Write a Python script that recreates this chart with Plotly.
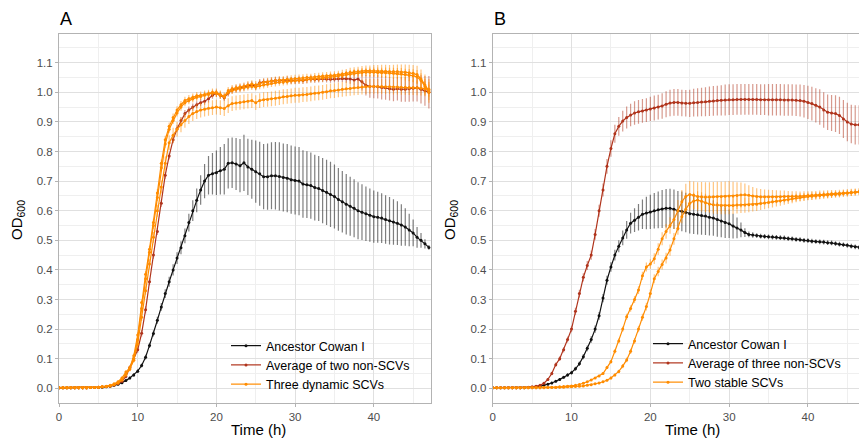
import plotly.graph_objects as go

# time points (h), one reading every 30 min
time_h = [i * 0.5 for i in range(95)]

# ---------------- Panel A ----------------
a_ancestor = [
    0.002, 0.002, 0.002, 0.002, 0.002, 0.002, 0.002, 0.002, 0.003, 0.003,
    0.003, 0.004, 0.005, 0.007, 0.010, 0.014, 0.019, 0.026, 0.035, 0.045,
    0.058, 0.077, 0.105, 0.145, 0.185, 0.230, 0.275, 0.320, 0.360, 0.400,
    0.440, 0.475, 0.515, 0.560, 0.600, 0.635, 0.670, 0.700, 0.720, 0.725,
    0.728, 0.735, 0.740, 0.760, 0.762, 0.758, 0.752, 0.762, 0.748, 0.740,
    0.732, 0.725, 0.715, 0.715, 0.718, 0.718, 0.716, 0.712, 0.710, 0.705,
    0.702, 0.700, 0.690, 0.688, 0.685, 0.678, 0.675, 0.668, 0.662, 0.655,
    0.648, 0.638, 0.630, 0.622, 0.615, 0.608, 0.600, 0.595, 0.590, 0.585,
    0.580, 0.578, 0.575, 0.570, 0.566, 0.562, 0.558, 0.552, 0.545, 0.535,
    0.525, 0.510, 0.500, 0.488, 0.476]
a_ancestor_sd = [
    0.002, 0.002, 0.002, 0.002, 0.002, 0.002, 0.002, 0.002, 0.002, 0.002,
    0.002, 0.002, 0.003, 0.003, 0.003, 0.004, 0.004, 0.005, 0.005, 0.006,
    0.006, 0.007, 0.008, 0.009, 0.010, 0.012, 0.013, 0.015, 0.017, 0.019,
    0.020, 0.022, 0.025, 0.030, 0.035, 0.040, 0.050, 0.058, 0.065, 0.070,
    0.075, 0.080, 0.085, 0.085, 0.085, 0.088, 0.090, 0.095, 0.095, 0.100,
    0.105, 0.108, 0.110, 0.112, 0.113, 0.114, 0.115, 0.115, 0.115, 0.115,
    0.115, 0.115, 0.114, 0.113, 0.112, 0.111, 0.110, 0.110, 0.110, 0.110,
    0.108, 0.106, 0.104, 0.102, 0.100, 0.098, 0.096, 0.094, 0.092, 0.090,
    0.088, 0.086, 0.084, 0.082, 0.080, 0.077, 0.074, 0.070, 0.063, 0.055,
    0.045, 0.035, 0.025, 0.016, 0.008]

a_nonscv = [
    0.002, 0.002, 0.002, 0.002, 0.002, 0.002, 0.002, 0.002, 0.003, 0.003,
    0.004, 0.005, 0.006, 0.008, 0.011, 0.016, 0.024, 0.040, 0.070, 0.100,
    0.130, 0.186, 0.265, 0.360, 0.450, 0.530, 0.625, 0.720, 0.785, 0.840,
    0.877, 0.905, 0.928, 0.940, 0.950, 0.958, 0.965, 0.970, 0.978, 0.990,
    0.997, 0.990, 0.982, 0.998, 1.008, 1.012, 1.015, 1.018, 1.022, 1.025,
    1.020, 1.032, 1.035, 1.035, 1.038, 1.040, 1.040, 1.040, 1.042, 1.040,
    1.040, 1.042, 1.040, 1.043, 1.045, 1.044, 1.045, 1.046, 1.045, 1.044,
    1.045, 1.046, 1.047, 1.046, 1.045, 1.042, 1.045, 1.036, 1.024, 1.020,
    1.020, 1.019, 1.016, 1.015, 1.012, 1.010, 1.012, 1.010, 1.010, 1.012,
    1.014, 1.015, 1.010, 1.005, 1.000]
a_nonscv_sd = [
    0.002, 0.002, 0.002, 0.002, 0.002, 0.002, 0.002, 0.002, 0.002, 0.002,
    0.002, 0.002, 0.003, 0.003, 0.004, 0.005, 0.006, 0.007, 0.008, 0.009,
    0.010, 0.011, 0.012, 0.012, 0.012, 0.012, 0.012, 0.012, 0.012, 0.012,
    0.012, 0.012, 0.012, 0.012, 0.012, 0.012, 0.012, 0.012, 0.012, 0.012,
    0.012, 0.012, 0.012, 0.012, 0.012, 0.012, 0.012, 0.012, 0.012, 0.012,
    0.012, 0.012, 0.012, 0.012, 0.012, 0.012, 0.012, 0.012, 0.012, 0.012,
    0.012, 0.012, 0.012, 0.012, 0.012, 0.012, 0.012, 0.012, 0.012, 0.012,
    0.012, 0.012, 0.012, 0.014, 0.016, 0.020, 0.025, 0.030, 0.035, 0.038,
    0.040, 0.040, 0.040, 0.040, 0.040, 0.040, 0.040, 0.042, 0.042, 0.044,
    0.045, 0.046, 0.048, 0.050, 0.055]

a_dyn1 = [
    0.002, 0.002, 0.002, 0.002, 0.002, 0.002, 0.002, 0.002, 0.003, 0.003,
    0.004, 0.005, 0.007, 0.010, 0.015, 0.022, 0.035, 0.055, 0.070, 0.110,
    0.180, 0.290, 0.385, 0.470, 0.560, 0.660, 0.760, 0.840, 0.885, 0.915,
    0.940, 0.958, 0.972, 0.978, 0.983, 0.988, 0.990, 0.993, 0.996, 1.000,
    1.000, 0.993, 0.986, 1.005, 1.012, 1.015, 1.018, 1.020, 1.025, 1.028,
    1.025, 1.030, 1.034, 1.036, 1.038, 1.040, 1.042, 1.042, 1.044, 1.045,
    1.046, 1.047, 1.048, 1.050, 1.050, 1.052, 1.053, 1.055, 1.056, 1.057,
    1.058, 1.060, 1.062, 1.065, 1.068, 1.070, 1.070, 1.072, 1.073, 1.073,
    1.073, 1.072, 1.072, 1.071, 1.070, 1.070, 1.070, 1.069, 1.068, 1.066,
    1.064, 1.060, 1.045, 1.025, 1.005]
a_dyn1_sd = [
    0.002, 0.002, 0.002, 0.002, 0.002, 0.002, 0.002, 0.002, 0.002, 0.002,
    0.002, 0.002, 0.002, 0.003, 0.003, 0.004, 0.005, 0.006, 0.007, 0.008,
    0.009, 0.010, 0.011, 0.012, 0.013, 0.013, 0.013, 0.013, 0.013, 0.013,
    0.013, 0.013, 0.013, 0.013, 0.013, 0.013, 0.013, 0.013, 0.013, 0.013,
    0.013, 0.013, 0.013, 0.013, 0.013, 0.013, 0.013, 0.013, 0.013, 0.013,
    0.013, 0.013, 0.013, 0.013, 0.013, 0.013, 0.013, 0.013, 0.013, 0.013,
    0.013, 0.013, 0.013, 0.013, 0.013, 0.013, 0.013, 0.013, 0.013, 0.013,
    0.013, 0.013, 0.014, 0.014, 0.015, 0.015, 0.016, 0.017, 0.018, 0.018,
    0.019, 0.020, 0.021, 0.022, 0.022, 0.023, 0.024, 0.025, 0.026, 0.027,
    0.028, 0.030, 0.032, 0.035, 0.040]

a_dyn2 = [
    0.002, 0.002, 0.002, 0.002, 0.002, 0.002, 0.002, 0.002, 0.003, 0.003,
    0.004, 0.005, 0.006, 0.009, 0.013, 0.019, 0.030, 0.047, 0.065, 0.100,
    0.165, 0.270, 0.370, 0.460, 0.550, 0.645, 0.745, 0.825, 0.875, 0.905,
    0.930, 0.950, 0.965, 0.972, 0.978, 0.983, 0.986, 0.990, 0.993, 0.997,
    0.996, 0.990, 0.984, 1.000, 1.006, 1.010, 1.012, 1.015, 1.018, 1.020,
    1.018, 1.022, 1.025, 1.027, 1.030, 1.032, 1.034, 1.035, 1.036, 1.038,
    1.039, 1.040, 1.042, 1.043, 1.045, 1.046, 1.047, 1.048, 1.050, 1.052,
    1.053, 1.055, 1.057, 1.060, 1.062, 1.064, 1.066, 1.067, 1.068, 1.068,
    1.068, 1.067, 1.066, 1.066, 1.065, 1.064, 1.063, 1.062, 1.060, 1.058,
    1.056, 1.052, 1.040, 1.020, 1.000]
a_dyn2_sd = [
    0.002, 0.002, 0.002, 0.002, 0.002, 0.002, 0.002, 0.002, 0.002, 0.002,
    0.002, 0.002, 0.002, 0.003, 0.003, 0.004, 0.005, 0.006, 0.007, 0.008,
    0.009, 0.010, 0.011, 0.012, 0.012, 0.012, 0.012, 0.012, 0.012, 0.012,
    0.012, 0.012, 0.012, 0.012, 0.012, 0.012, 0.012, 0.012, 0.012, 0.012,
    0.012, 0.012, 0.012, 0.012, 0.012, 0.012, 0.012, 0.012, 0.012, 0.012,
    0.012, 0.012, 0.012, 0.012, 0.012, 0.012, 0.012, 0.012, 0.012, 0.012,
    0.012, 0.012, 0.012, 0.012, 0.012, 0.012, 0.012, 0.012, 0.012, 0.012,
    0.012, 0.012, 0.012, 0.013, 0.013, 0.014, 0.014, 0.015, 0.015, 0.016,
    0.016, 0.017, 0.017, 0.018, 0.018, 0.019, 0.019, 0.020, 0.020, 0.021,
    0.022, 0.023, 0.024, 0.025, 0.026]

a_dyn3 = [
    0.002, 0.002, 0.002, 0.002, 0.002, 0.002, 0.002, 0.002, 0.003, 0.003,
    0.004, 0.005, 0.006, 0.008, 0.012, 0.018, 0.028, 0.045, 0.065, 0.095,
    0.150, 0.240, 0.330, 0.420, 0.510, 0.600, 0.680, 0.760, 0.830, 0.855,
    0.875, 0.890, 0.905, 0.918, 0.928, 0.935, 0.940, 0.943, 0.946, 0.948,
    0.950, 0.948, 0.945, 0.955, 0.962, 0.964, 0.966, 0.968, 0.970, 0.972,
    0.965, 0.972, 0.975, 0.976, 0.978, 0.980, 0.982, 0.985, 0.986, 0.988,
    0.990, 0.990, 0.992, 0.993, 0.995, 0.997, 0.998, 1.000, 1.002, 1.005,
    1.006, 1.008, 1.010, 1.012, 1.013, 1.015, 1.016, 1.018, 1.019, 1.020,
    1.020, 1.020, 1.020, 1.019, 1.019, 1.018, 1.018, 1.017, 1.017, 1.016,
    1.016, 1.015, 1.014, 1.012, 1.010]
a_dyn3_sd = [
    0.002, 0.002, 0.002, 0.002, 0.002, 0.002, 0.002, 0.002, 0.002, 0.002,
    0.002, 0.002, 0.002, 0.003, 0.003, 0.004, 0.005, 0.006, 0.007, 0.008,
    0.010, 0.012, 0.014, 0.016, 0.018, 0.020, 0.022, 0.024, 0.025, 0.025,
    0.025, 0.025, 0.025, 0.025, 0.025, 0.025, 0.025, 0.025, 0.025, 0.025,
    0.025, 0.025, 0.025, 0.025, 0.025, 0.025, 0.025, 0.025, 0.025, 0.025,
    0.025, 0.025, 0.025, 0.025, 0.025, 0.025, 0.025, 0.025, 0.025, 0.025,
    0.025, 0.025, 0.025, 0.025, 0.025, 0.025, 0.025, 0.025, 0.025, 0.025,
    0.025, 0.025, 0.025, 0.025, 0.025, 0.025, 0.025, 0.025, 0.025, 0.025,
    0.025, 0.025, 0.025, 0.025, 0.025, 0.025, 0.025, 0.025, 0.025, 0.025,
    0.025, 0.025, 0.025, 0.025, 0.025]

# ---------------- Panel B ----------------
b_ancestor = [
    0.002, 0.002, 0.002, 0.002, 0.002, 0.002, 0.002, 0.002, 0.002, 0.003,
    0.003, 0.004, 0.007, 0.010, 0.014, 0.018, 0.024, 0.030, 0.037, 0.045,
    0.053, 0.066, 0.083, 0.107, 0.135, 0.165, 0.200, 0.245, 0.305, 0.365,
    0.410, 0.450, 0.480, 0.508, 0.535, 0.558, 0.568, 0.578, 0.588, 0.592,
    0.596, 0.600, 0.603, 0.606, 0.608, 0.608, 0.605, 0.600, 0.598, 0.594,
    0.590, 0.588, 0.586, 0.584, 0.582, 0.578, 0.575, 0.570, 0.565, 0.560,
    0.556, 0.548, 0.542, 0.535, 0.526, 0.520, 0.518, 0.516, 0.514, 0.513,
    0.512, 0.511, 0.510, 0.509, 0.508, 0.506, 0.505, 0.503, 0.502, 0.500,
    0.499, 0.497, 0.496, 0.495, 0.494, 0.492, 0.491, 0.489, 0.487, 0.485,
    0.483, 0.480, 0.478, 0.476, 0.475]
b_ancestor_sd = [
    0.002, 0.002, 0.002, 0.002, 0.002, 0.002, 0.002, 0.002, 0.002, 0.002,
    0.002, 0.002, 0.003, 0.003, 0.003, 0.004, 0.004, 0.005, 0.005, 0.006,
    0.006, 0.007, 0.008, 0.009, 0.010, 0.011, 0.012, 0.013, 0.014, 0.015,
    0.016, 0.018, 0.020, 0.025, 0.030, 0.035, 0.040, 0.045, 0.050, 0.055,
    0.058, 0.060, 0.062, 0.064, 0.065, 0.066, 0.067, 0.067, 0.067, 0.067,
    0.067, 0.067, 0.066, 0.065, 0.064, 0.062, 0.060, 0.058, 0.055, 0.052,
    0.048, 0.042, 0.035, 0.025, 0.015, 0.010, 0.009, 0.008, 0.008, 0.008,
    0.008, 0.008, 0.008, 0.008, 0.008, 0.008, 0.008, 0.008, 0.008, 0.008,
    0.008, 0.008, 0.008, 0.008, 0.008, 0.008, 0.008, 0.008, 0.008, 0.008,
    0.008, 0.008, 0.008, 0.008, 0.008]

b_nonscv = [
    0.002, 0.002, 0.002, 0.002, 0.002, 0.002, 0.002, 0.002, 0.003, 0.004,
    0.005, 0.007, 0.010, 0.017, 0.030, 0.050, 0.080, 0.100, 0.130, 0.165,
    0.200, 0.260, 0.320, 0.375, 0.415, 0.450, 0.520, 0.600, 0.670, 0.750,
    0.810, 0.860, 0.885, 0.903, 0.915, 0.923, 0.930, 0.934, 0.937, 0.940,
    0.944, 0.947, 0.950, 0.954, 0.960, 0.964, 0.966, 0.966, 0.964, 0.963,
    0.963, 0.965, 0.966, 0.967, 0.968, 0.970, 0.971, 0.972, 0.973, 0.974,
    0.975, 0.975, 0.976, 0.976, 0.976, 0.976, 0.976, 0.976, 0.975, 0.975,
    0.975, 0.975, 0.975, 0.975, 0.974, 0.974, 0.974, 0.973, 0.972, 0.970,
    0.966, 0.962, 0.956, 0.950, 0.940, 0.933, 0.930, 0.928, 0.922, 0.910,
    0.900, 0.893, 0.890, 0.890, 0.889]
b_nonscv_sd = [
    0.002, 0.002, 0.002, 0.002, 0.002, 0.002, 0.002, 0.002, 0.002, 0.002,
    0.002, 0.003, 0.003, 0.004, 0.005, 0.006, 0.007, 0.008, 0.009, 0.010,
    0.011, 0.012, 0.013, 0.014, 0.015, 0.016, 0.018, 0.020, 0.022, 0.025,
    0.028, 0.030, 0.032, 0.035, 0.037, 0.038, 0.040, 0.040, 0.040, 0.040,
    0.041, 0.042, 0.042, 0.043, 0.044, 0.045, 0.045, 0.045, 0.045, 0.045,
    0.046, 0.047, 0.048, 0.048, 0.049, 0.050, 0.050, 0.050, 0.051, 0.052,
    0.052, 0.052, 0.052, 0.052, 0.052, 0.052, 0.052, 0.052, 0.052, 0.052,
    0.053, 0.053, 0.053, 0.053, 0.053, 0.053, 0.053, 0.053, 0.054, 0.055,
    0.056, 0.057, 0.058, 0.060, 0.060, 0.060, 0.061, 0.062, 0.063, 0.064,
    0.065, 0.065, 0.066, 0.066, 0.066]

b_stable1 = [
    0.002, 0.002, 0.002, 0.002, 0.002, 0.002, 0.002, 0.002, 0.002, 0.002,
    0.002, 0.002, 0.002, 0.003, 0.003, 0.004, 0.004, 0.005, 0.006, 0.007,
    0.008, 0.010, 0.013, 0.017, 0.022, 0.028, 0.035, 0.042, 0.050, 0.070,
    0.090, 0.125, 0.160, 0.200, 0.242, 0.270, 0.300, 0.332, 0.380, 0.410,
    0.420, 0.438, 0.470, 0.505, 0.530, 0.550, 0.570, 0.600, 0.630, 0.648,
    0.655, 0.652, 0.648, 0.647, 0.646, 0.646, 0.647, 0.648, 0.648, 0.649,
    0.650, 0.650, 0.651, 0.653, 0.654, 0.652, 0.650, 0.648, 0.647, 0.647,
    0.647, 0.647, 0.647, 0.647, 0.648, 0.648, 0.648, 0.649, 0.649, 0.650,
    0.651, 0.652, 0.653, 0.654, 0.655, 0.656, 0.657, 0.658, 0.659, 0.660,
    0.661, 0.662, 0.663, 0.664, 0.665]
b_stable1_sd = [
    0.001, 0.001, 0.001, 0.001, 0.001, 0.001, 0.001, 0.001, 0.001, 0.001,
    0.001, 0.001, 0.001, 0.001, 0.001, 0.001, 0.001, 0.001, 0.001, 0.001,
    0.002, 0.002, 0.002, 0.002, 0.003, 0.003, 0.003, 0.004, 0.004, 0.005,
    0.006, 0.007, 0.008, 0.009, 0.010, 0.011, 0.012, 0.013, 0.014, 0.015,
    0.016, 0.018, 0.020, 0.022, 0.025, 0.028, 0.032, 0.036, 0.040, 0.043,
    0.045, 0.047, 0.048, 0.050, 0.050, 0.050, 0.050, 0.050, 0.050, 0.050,
    0.050, 0.048, 0.045, 0.042, 0.038, 0.034, 0.030, 0.028, 0.026, 0.025,
    0.024, 0.023, 0.022, 0.021, 0.020, 0.019, 0.018, 0.017, 0.016, 0.016,
    0.015, 0.015, 0.014, 0.014, 0.013, 0.013, 0.013, 0.012, 0.012, 0.012,
    0.012, 0.012, 0.012, 0.012, 0.012]

b_stable2 = [
    0.002, 0.002, 0.002, 0.002, 0.002, 0.002, 0.002, 0.002, 0.002, 0.002,
    0.002, 0.002, 0.002, 0.002, 0.003, 0.003, 0.003, 0.004, 0.004, 0.005,
    0.005, 0.006, 0.007, 0.008, 0.010, 0.012, 0.015, 0.018, 0.022, 0.027,
    0.035, 0.045, 0.057, 0.075, 0.096, 0.125, 0.160, 0.200, 0.240, 0.276,
    0.320, 0.370, 0.395, 0.418, 0.440, 0.467, 0.505, 0.540, 0.580, 0.605,
    0.625, 0.633, 0.636, 0.632, 0.627, 0.623, 0.620, 0.619, 0.618, 0.618,
    0.618, 0.618, 0.619, 0.619, 0.619, 0.620, 0.621, 0.622, 0.624, 0.626,
    0.628, 0.630, 0.632, 0.634, 0.636, 0.638, 0.640, 0.643, 0.645, 0.647,
    0.648, 0.649, 0.650, 0.651, 0.652, 0.653, 0.654, 0.655, 0.656, 0.658,
    0.659, 0.661, 0.662, 0.664, 0.665]
b_stable2_sd = [
    0.001, 0.001, 0.001, 0.001, 0.001, 0.001, 0.001, 0.001, 0.001, 0.001,
    0.001, 0.001, 0.001, 0.001, 0.001, 0.001, 0.001, 0.001, 0.001, 0.001,
    0.002, 0.002, 0.002, 0.002, 0.002, 0.003, 0.003, 0.003, 0.004, 0.004,
    0.005, 0.005, 0.006, 0.007, 0.008, 0.009, 0.010, 0.011, 0.012, 0.013,
    0.014, 0.015, 0.016, 0.017, 0.018, 0.019, 0.020, 0.021, 0.022, 0.024,
    0.026, 0.028, 0.030, 0.030, 0.030, 0.030, 0.030, 0.030, 0.030, 0.030,
    0.030, 0.029, 0.028, 0.027, 0.026, 0.025, 0.024, 0.023, 0.022, 0.021,
    0.020, 0.019, 0.018, 0.017, 0.016, 0.015, 0.015, 0.014, 0.014, 0.013,
    0.013, 0.013, 0.012, 0.012, 0.012, 0.012, 0.011, 0.011, 0.011, 0.011,
    0.011, 0.011, 0.011, 0.011, 0.011]

x_ticks = [0, 10, 20, 30, 40]
y_ticks = [0.0, 0.1, 0.2, 0.3, 0.4, 0.5, 0.6, 0.7, 0.8, 0.9, 1.0, 1.1]
y_tick_labels = ["0.0", "0.1", "0.2", "0.3", "0.4", "0.5", "0.6", "0.7", "0.8", "0.9", "1.0", "1.1"]

BLACK = "#111111"
RED = "#B0341C"
ORANGE = "#FF8C00"
ERR = {BLACK: "rgba(20,20,20,0.55)", RED: "rgba(176,52,28,0.5)", ORANGE: "rgba(255,140,0,0.5)"}

W, H = 859, 440
FONT = "Liberation Sans, Arial, sans-serif"

fig = go.Figure()


def add(y, sd, color, name, xa, ya, legend, show=True, group=None):
    fig.add_trace(go.Scatter(
        x=time_h, y=y, mode="lines+markers", name=name,
        xaxis=xa, yaxis=ya, legend=legend, showlegend=show,
        legendgroup=group or (legend + name),
        line=dict(color=color, width=1.2),
        marker=dict(color=color, size=3),
        error_y=dict(type="data", array=sd, visible=True, color=ERR[color],
                     thickness=1.2, width=0),
    ))


add(a_ancestor, a_ancestor_sd, BLACK, "Ancestor Cowan I", "x", "y", "legend")
add(a_nonscv, a_nonscv_sd, RED, "Average of two non-SCVs", "x", "y", "legend")
add(a_dyn3, a_dyn3_sd, ORANGE, "Three dynamic SCVs", "x", "y", "legend", True, "dyn")
add(a_dyn2, a_dyn2_sd, ORANGE, "Three dynamic SCVs", "x", "y", "legend", False, "dyn")
add(a_dyn1, a_dyn1_sd, ORANGE, "Three dynamic SCVs", "x", "y", "legend", False, "dyn")

add(b_ancestor, b_ancestor_sd, BLACK, "Ancestor Cowan I", "x2", "y2", "legend2")
add(b_nonscv, b_nonscv_sd, RED, "Average of three non-SCVs", "x2", "y2", "legend2")
add(b_stable1, b_stable1_sd, ORANGE, "Two stable SCVs", "x2", "y2", "legend2", True, "st")
add(b_stable2, b_stable2_sd, ORANGE, "Two stable SCVs", "x2", "y2", "legend2", False, "st")

px = lambda v: v / W
py = lambda v: 1 - v / H

grid = dict(showgrid=True, gridcolor="#E0E0E0", gridwidth=1, zeroline=False,
            showline=True, linecolor="#B3B3B3", linewidth=1,
            ticks="outside", ticklen=3, tickcolor="#B3B3B3", tickwidth=1,
            tickfont=dict(family=FONT, size=11.5, color="#4D4D4D"),
            automargin=False)

xcommon = dict(grid, tickvals=x_ticks, minor=dict(dtick=5, tick0=0, showgrid=True,
                                                  gridcolor="#EFEFEF", gridwidth=0.7))
ycommon = dict(grid, tickvals=y_ticks, ticktext=y_tick_labels,
               range=[-0.0486, 1.197],
               domain=[py(402.7), py(34)],
               minor=dict(dtick=0.05, tick0=0.05, showgrid=True,
                          gridcolor="#EFEFEF", gridwidth=0.7))

LEGFONT = dict(family=FONT, size=12.5, color="black")

fig.update_layout(
    width=W, height=H,
    margin=dict(l=0, r=0, t=0, b=0),
    paper_bgcolor="white", plot_bgcolor="white",
    font=dict(family=FONT, color="black"),
    xaxis=dict(xcommon, domain=[px(59), px(431)], range=[0, 47.27], mirror=True, anchor="y"),
    yaxis=dict(ycommon, mirror=True, anchor="x"),
    xaxis2=dict(xcommon, domain=[px(492.7), 1.0], range=[0, 46.48], mirror=True, anchor="y2"),
    yaxis2=dict(ycommon, mirror=False, anchor="x2"),
    legend=dict(x=px(226), y=py(331), xanchor="left", yanchor="top",
                bgcolor="rgba(0,0,0,0)", font=LEGFONT,
                itemwidth=30, tracegroupgap=0),
    legend2=dict(x=px(648), y=py(329), xanchor="left", yanchor="top",
                 bgcolor="rgba(0,0,0,0)", font=LEGFONT,
                 itemwidth=30, tracegroupgap=0),
    showlegend=True,
)

ann = [
    dict(text="A", x=px(58), y=py(19.5), xanchor="left", yanchor="middle", font=dict(size=18)),
    dict(text="B", x=px(491.5), y=py(19.5), xanchor="left", yanchor="middle", font=dict(size=18)),
    dict(text="Time (h)", x=px(258), y=py(429.5), xanchor="center", yanchor="middle", font=dict(size=15)),
    dict(text="Time (h)", x=px(692), y=py(429.5), xanchor="center", yanchor="middle", font=dict(size=15)),
    dict(text="OD<sub>600</sub>", x=px(17), y=py(220), xanchor="center", yanchor="middle",
         textangle=-90, font=dict(size=15)),
    dict(text="OD<sub>600</sub>", x=px(450), y=py(220), xanchor="center", yanchor="middle",
         textangle=-90, font=dict(size=15)),
]
for a in ann:
    a.update(xref="paper", yref="paper", showarrow=False)
    a["font"] = dict(a["font"], family=FONT, color="black")
fig.update_layout(annotations=ann)

fig.write_html("out.html",
               config={"displayModeBar": False},
               post_script="document.body.style.margin='0';document.body.style.overflow='hidden';")
